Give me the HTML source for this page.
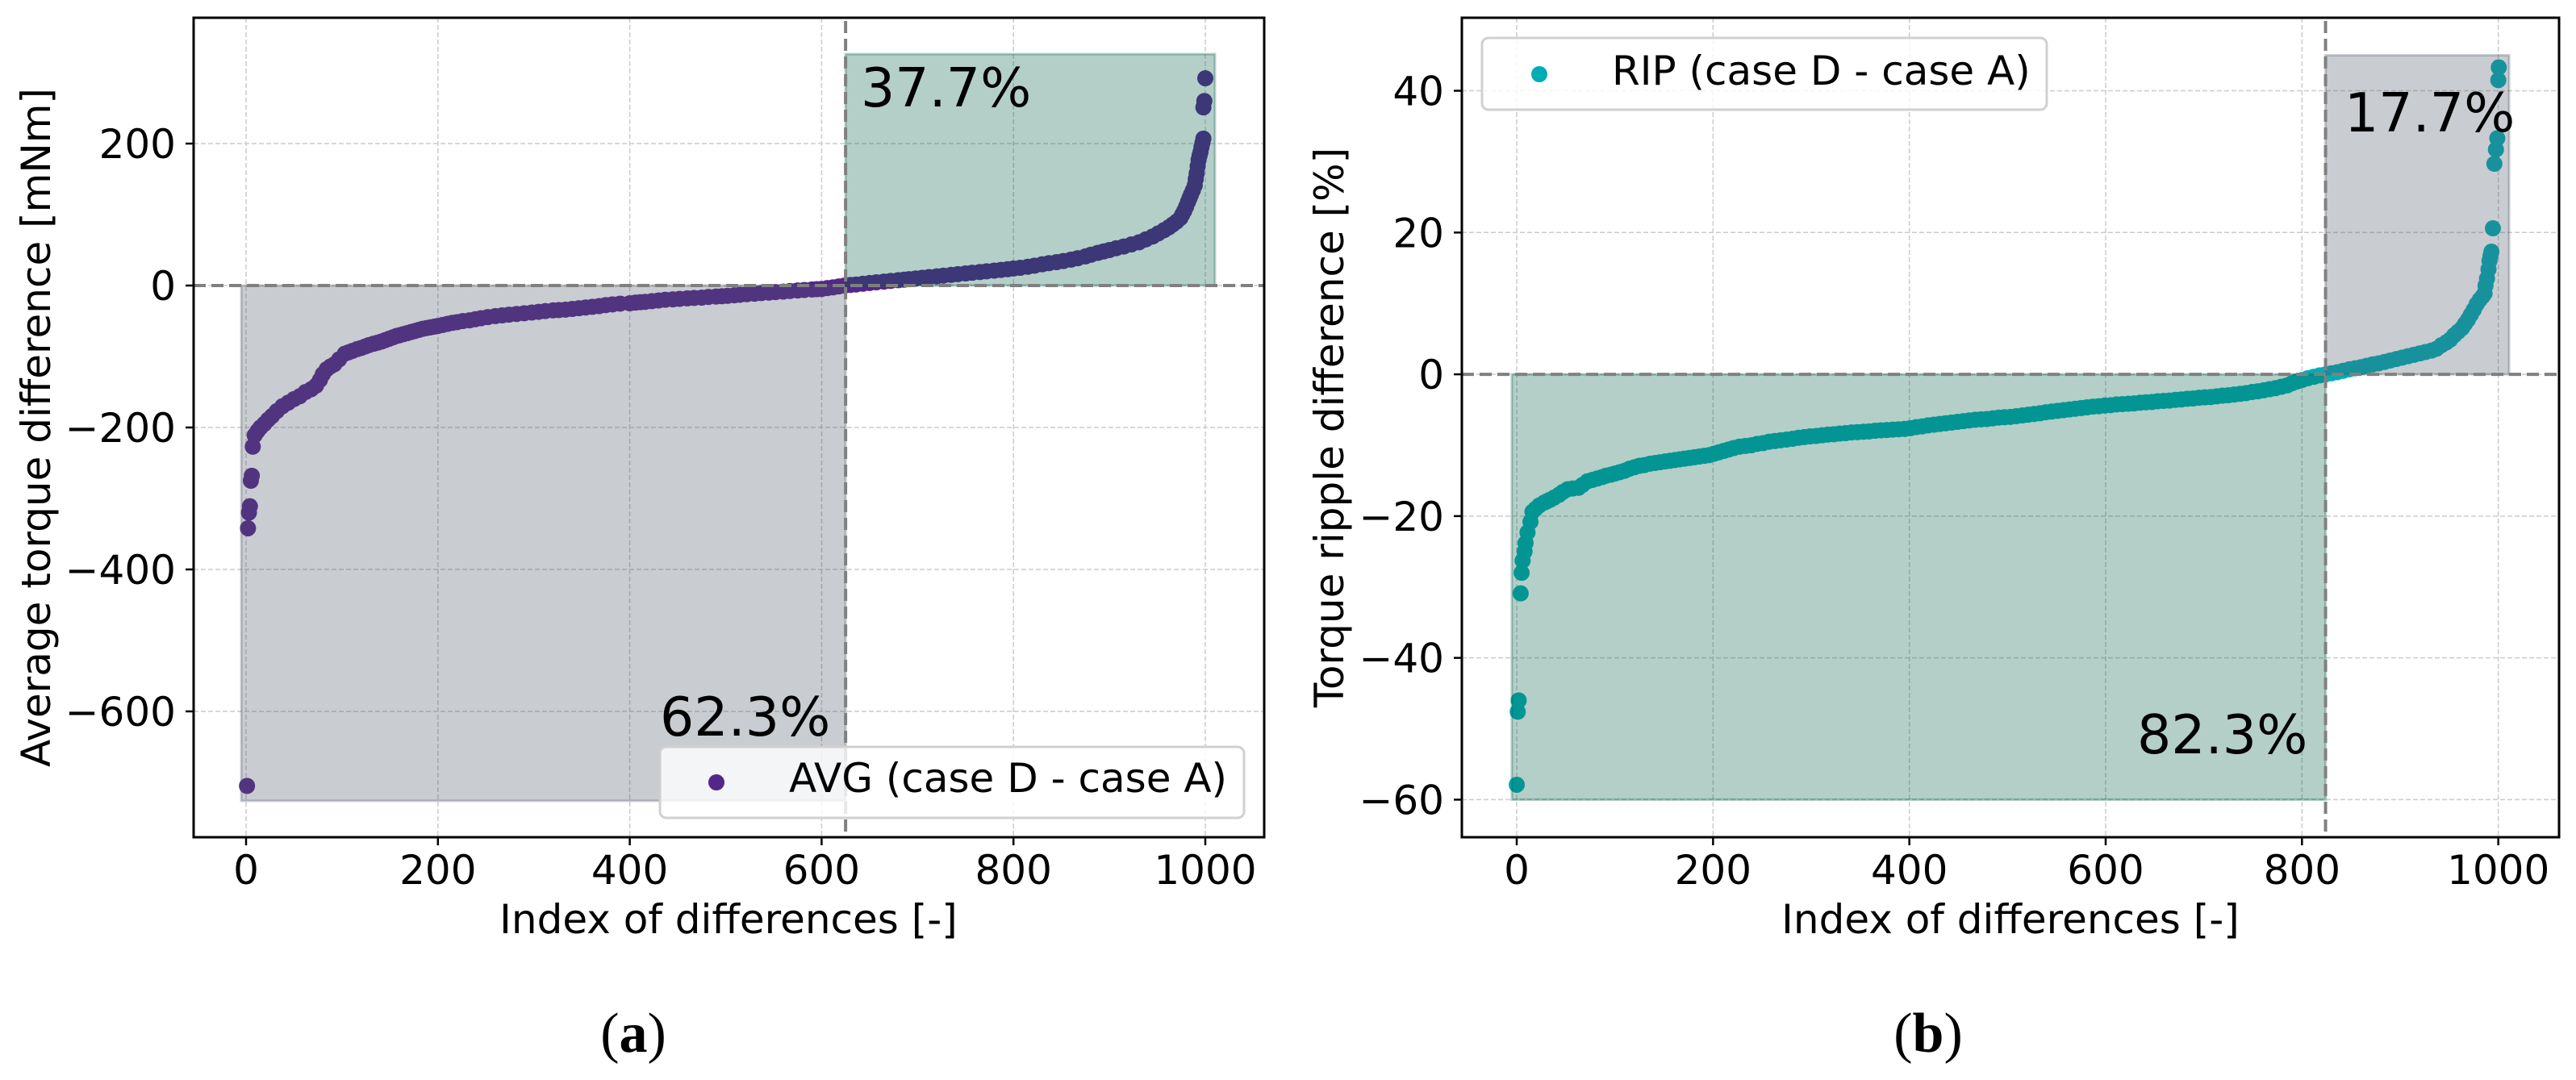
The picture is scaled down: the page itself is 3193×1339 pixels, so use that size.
<!DOCTYPE html>
<html lang="en">
<head>
<meta charset="utf-8">
<title>Torque and ripple differences</title>
<style>
html,body{margin:0;padding:0;background:#fff;}
svg{display:block;}
text{font-family:"DejaVu Sans","Liberation Sans",sans-serif;fill:#000;}
.tick-text,.axis-title,.legend-text{font-size:50px;}
.pct{font-size:66.5px;}
.caption{font-family:"Liberation Serif",serif;font-size:70px;}
</style>
</head>
<body>
<svg id="figure" xmlns="http://www.w3.org/2000/svg" width="3193" height="1339" viewBox="0 0 3193 1339">
  <rect x="0" y="0" width="3193" height="1339" fill="#fff"/>

  <g id="panel-a">
    <g id="a-grid"></g>
    <g id="a-marks"></g>
    <g id="a-regions"></g>
    <g id="a-refs"></g>
    <g id="a-ticks"></g>
    <text class="pct" x="1067" y="132">37.7%</text>
    <text class="pct" x="818" y="912">62.3%</text>
    <g>
      <rect x="818" y="926" width="724" height="88" rx="8" fill="#fff" fill-opacity="0.8" stroke="#d0d0d0" stroke-width="3"/>
      <circle cx="888" cy="970" r="10" fill="#54268a"/>
      <text class="legend-text" x="978" y="982">AVG (case D - case A)</text>
    </g>
    <rect x="240" y="22" width="1327" height="1016" fill="none" stroke="#000" stroke-width="3"/>
    <text class="axis-title" x="903" y="1157" text-anchor="middle">Index of differences [-]</text>
    <text class="axis-title" transform="translate(62 530) rotate(-90)" text-anchor="middle">Average torque difference [mNm]</text>
    <text class="caption" x="785" y="1304" text-anchor="middle">(<tspan font-weight="bold">a</tspan>)</text>
  </g>

  <g id="panel-b">
    <g id="b-grid"></g>
    <g id="b-marks"></g>
    <g id="b-regions"></g>
    <g id="b-refs"></g>
    <g id="b-ticks"></g>
    <text class="pct" x="2906" y="163">17.7%</text>
    <text class="pct" x="2649" y="934">82.3%</text>
    <g>
      <rect x="1837" y="47" width="700" height="89" rx="8" fill="#fff" fill-opacity="0.8" stroke="#d0d0d0" stroke-width="3"/>
      <circle cx="1908" cy="92" r="10" fill="#00adb5"/>
      <text class="legend-text" x="1998" y="105">RIP (case D - case A)</text>
    </g>
    <rect x="1812" y="22" width="1360" height="1016" fill="none" stroke="#000" stroke-width="3"/>
    <text class="axis-title" x="2492" y="1157" text-anchor="middle">Index of differences [-]</text>
    <text class="axis-title" transform="translate(1665 530) rotate(-90)" text-anchor="middle">Torque ripple difference [%]</text>
    <text class="caption" x="2390" y="1304" text-anchor="middle">(<tspan font-weight="bold">b</tspan>)</text>
  </g>
</svg>

<script>
// Panel (a): average torque difference
const avgIndex = [
1,2,3,4,5,6,7,9,12,15,
19,23,27,32,38,44,50,56,62,68,
73,77,80,84,88,92,97,103,107,111,
116,120,124,128,133,137,141,145,149,153,
157,160,164,168,172,176,180,184,188,192,
196,200,205,210,215,220,226,233,239,245,
252,260,267,274,282,290,298,305,312,320,
326,333,340,347,354,361,368,375,382,390,
400,406,411,416,423,430,437,445,452,460,
467,475,482,490,496,502,509,515,522,530,
537,545,552,560,567,575,582,590,595,600,
606,612,618,624,630,636,643,650,657,665,
672,680,686,691,698,705,712,720,727,735,
742,750,757,765,772,780,787,794,800,807,
815,822,830,837,845,852,860,867,875,881,
888,894,900,907,915,923,931,938,945,951,
957,962,966,970,974,976,978,980,982,983.5,
985,987,989,990,991,992,993,994,995,996,
997,998,998,999,1000
];
const avgValues = [
-705,-342,-320,-311,-275,-268,-227,-211,-205,-200,
-195,-189,-184,-177,-170,-165,-160,-156,-150,-146,
-141,-133,-125,-118,-114,-111,-104,-96,-94,-92,
-89.5,-88,-86,-84,-82,-80.5,-79,-77,-75,-73,
-71,-70,-68.5,-67,-65.5,-64,-62.5,-61,-60,-59,
-58,-57,-55.5,-54,-52.5,-51.5,-50,-49,-47.5,-46,
-44.5,-43,-42,-41,-40,-39,-38,-37,-36,-35,
-34.5,-34,-33,-32,-31,-30,-29,-27.5,-26.5,-25.5,
-25,-24,-23.5,-23,-22,-21,-20,-19.5,-18.7,-18,
-17.5,-17,-16,-15.5,-15,-14.5,-13.7,-13,-12.2,-11.5,
-10.7,-10,-9.2,-8.5,-7.7,-7,-6.2,-5.5,-5.1,-4.8,
-3.6,-2.5,-1.2,0,0.8,1.5,2.5,3.5,4.5,5.5,
6.5,7.5,8.2,9,10,11,12,13,14,15,
16,17,18,19,20,21,22,23,24,25,
26.5,28,30,31.5,33,34.5,36.5,38.5,41,43.5,
46,48,50,52.5,55,58,61,65,69,73.5,
78,82,86,90,95,100,105,111,118,123,
128,134,141,150,158,168,177,183,188,195,
201,207,251,260,292
];
const avgYTicks = [200,0,-200,-400,-600];
const avgRegionIndex = [-5,625,1010];
const avgRegionValues = [-726,326];

// Panel (b): torque ripple difference
const ripIndex = [
0,1,2,4,5,6,8,9,11,14,
16,19,23,28,31,34,38,43,47,52,
57,63,67,72,77,82,87,91,96,100,
105,110,115,120,125,130,136,141,146,151,
156,161,166,171,176,181,186,191,196,201,
206,211,216,221,227,233,239,245,251,257,
263,269,275,281,287,293,299,305,311,317,
323,329,335,341,347,353,359,365,371,377,
383,389,395,401,407,413,419,425,431,437,
443,449,455,461,467,473,479,485,491,497,
503,509,515,521,527,533,539,545,551,557,
563,569,575,581,587,593,599,605,611,617,
623,629,635,641,647,653,659,665,671,677,
683,689,695,701,707,713,719,725,731,737,
743,749,755,761,767,773,779,785,790,795,
800,806,812,818,824,830,836,842,848,854,
860,866,872,878,884,890,896,902,908,914,
920,926,932,937,942,947,951,955,959,963,
966,969,972,975,978,981,984,986,987,988.5,
990,991,992,993,994.5,996,997.6,999,1000,1000.5
];
const ripValues = [
-57.9,-47.6,-46,-30.9,-28,-26.3,-25,-23.8,-22.3,-20.8,
-19.4,-19,-18.5,-18.1,-17.9,-17.7,-17.4,-17,-16.6,-16.2,
-16.1,-16,-15.6,-15.1,-14.9,-14.7,-14.5,-14.3,-14.15,-14,
-13.8,-13.6,-13.3,-13.1,-12.9,-12.8,-12.6,-12.5,-12.4,-12.3,
-12.2,-12.1,-12,-11.9,-11.8,-11.7,-11.6,-11.5,-11.4,-11.2,
-11,-10.8,-10.6,-10.4,-10.2,-10.1,-10,-9.8,-9.7,-9.5,
-9.4,-9.3,-9.2,-9.1,-8.95,-8.85,-8.75,-8.7,-8.6,-8.5,
-8.45,-8.35,-8.3,-8.2,-8.15,-8.1,-8.05,-7.95,-7.9,-7.85,
-7.8,-7.75,-7.7,-7.6,-7.45,-7.35,-7.2,-7.1,-7,-6.9,
-6.8,-6.7,-6.6,-6.5,-6.4,-6.35,-6.3,-6.2,-6.1,-6.05,
-6,-5.9,-5.8,-5.7,-5.6,-5.5,-5.35,-5.25,-5.15,-5.05,
-4.95,-4.85,-4.75,-4.65,-4.55,-4.5,-4.4,-4.35,-4.25,-4.2,
-4.15,-4.1,-4,-3.95,-3.9,-3.8,-3.75,-3.7,-3.6,-3.55,
-3.45,-3.4,-3.3,-3.25,-3.2,-3.1,-3,-2.95,-2.85,-2.75,
-2.65,-2.5,-2.4,-2.25,-2.1,-1.95,-1.75,-1.55,-1.25,-1,
-0.8,-0.55,-0.35,-0.15,0,0.15,0.3,0.5,0.7,0.85,
1,1.2,1.4,1.55,1.75,1.95,2.15,2.35,2.55,2.75,
2.95,3.15,3.35,3.6,4.1,4.5,4.9,5.5,6,6.5,
7.1,7.7,8.4,9.1,9.9,10.5,11,11.4,12.5,13.5,
14.8,16,16.7,17.3,20.6,29.7,31.7,33.3,41.5,43.3
];
const ripYTicks = [40,20,0,-20,-40,-60];
const ripRegionIndex = [-5,824,1011];
const ripRegionValues = [-60,45];

// Shared x axis ticks
const xTicks = [0,200,400,600,800,1000];

const SVG_NS = 'http://www.w3.org/2000/svg';

function makeScale(d0, d1, p0, p1) {
  return function (v) { return p0 + (v - d0) * (p1 - p0) / (d1 - d0); };
}

function make(parent, tag, props) {
  const node = document.createElementNS(SVG_NS, tag);
  for (const key in props) node.setAttribute(key, props[key]);
  parent.appendChild(node);
  return node;
}

function fmt(v) {
  return v < 0 ? '\u2212' + Math.abs(v) : String(v);
}

function drawPanel(prefix, box, xDom, yDom, indexArr, valueArr, yTicks, regionX, regionY, markerFill, negFill, posFill) {
  const x = makeScale(xDom[0], xDom[1], box.left, box.right);
  const y = makeScale(yDom[0], yDom[1], box.bottom, box.top);
  const grid = document.getElementById(prefix + '-grid');
  const marks = document.getElementById(prefix + '-marks');
  const regions = document.getElementById(prefix + '-regions');
  const refs = document.getElementById(prefix + '-refs');
  const ticks = document.getElementById(prefix + '-ticks');
  const gridStyle = {stroke: '#cbcbcb', 'stroke-width': 1.5, 'stroke-dasharray': '6 3', fill: 'none'};

  xTicks.forEach(function (t) {
    const line = make(grid, 'line', Object.assign({x1: x(t), x2: x(t), y1: box.top, y2: box.bottom}, gridStyle));
    
    
    const mark = make(ticks, 'line', {x1: x(t), x2: x(t), y1: box.bottom, y2: box.bottom + 10, stroke: '#000', 'stroke-width': 2.5});
    
    
    const label = make(ticks, 'text', {x: x(t), y: 1096, 'text-anchor': 'middle', class: 'tick-text'});
    label.textContent = fmt(t);
    
    
  });

  yTicks.forEach(function (t) {
    const line = make(grid, 'line', Object.assign({x1: box.left, x2: box.right, y1: y(t), y2: y(t)}, gridStyle));
    
    
    const mark = make(ticks, 'line', {x1: box.left - 10, x2: box.left, y1: y(t), y2: y(t), stroke: '#000', 'stroke-width': 2.5});
    
    
    const label = make(ticks, 'text', {x: box.left - 22, y: y(t) + 18, 'text-anchor': 'end', class: 'tick-text'});
    label.textContent = fmt(t);
    
    
  });

  indexArr.forEach(function (ix, i) {
    const dot = make(marks, 'circle', {cx: x(ix), cy: y(valueArr[i]), r: 10, fill: markerFill});
    
    
  });

  const neg = make(regions, 'rect', {
    x: x(regionX[0]), y: y(0), width: x(regionX[1]) - x(regionX[0]), height: y(regionY[0]) - y(0),
    fill: negFill, 'fill-opacity': 0.3, stroke: negFill, 'stroke-opacity': 0.3, 'stroke-width': 3
  });
  
  

  const pos = make(regions, 'rect', {
    x: x(regionX[1]), y: y(regionY[1]), width: x(regionX[2]) - x(regionX[1]), height: y(0) - y(regionY[1]),
    fill: posFill, 'fill-opacity': 0.3, stroke: posFill, 'stroke-opacity': 0.3, 'stroke-width': 3
  });
  
  

  const refStyle = {stroke: '#808080', 'stroke-width': 4, 'stroke-dasharray': '15 7', fill: 'none'};
  const hRef = make(refs, 'line', Object.assign({x1: box.left, x2: box.right, y1: y(0), y2: y(0)}, refStyle));
  
  
  const vRef = make(refs, 'line', Object.assign({x1: x(regionX[1]), x2: x(regionX[1]), y1: box.top + 4, y2: box.bottom}, refStyle));
  
  
}

drawPanel('a', {left: 240, right: 1567, top: 22, bottom: 1038}, [-54.67, 1061.4], [-777.3, 377.3],
  avgIndex, avgValues, avgYTicks, avgRegionIndex, avgRegionValues, '#54268a', 'rgb(75,85,102)', 'rgb(5,95,72)');
drawPanel('b', {left: 1812, right: 3172, top: 22, bottom: 1038}, [-55.9, 1061.9], [-65.3, 50.3],
  ripIndex, ripValues, ripYTicks, ripRegionIndex, ripRegionValues, '#00adb5', 'rgb(5,95,72)', 'rgb(75,85,102)');
</script>
</body>
</html>
